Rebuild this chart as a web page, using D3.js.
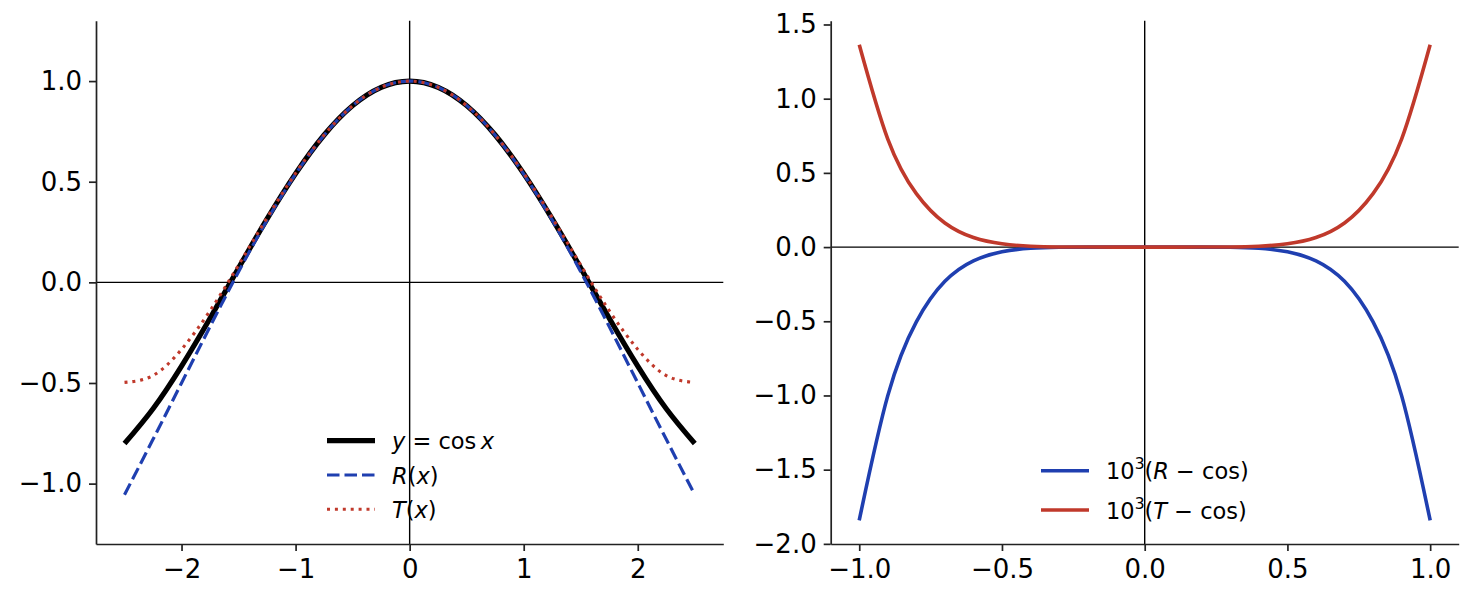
<!DOCTYPE html>
<html>
<head>
<meta charset="utf-8">
<script src="https://cdn.jsdelivr.net/npm/d3@7"></script>
<style>
  body { margin: 0; background: #fff; }
  text { font-family: "DejaVu Sans", sans-serif; }
</style>
</head>
<body>
<script>
// values

// left panel: cos x and its two approximations, x = -2.5 .. 2.5
const xsLeft = [-2.5, -2.25, -2.0, -1.75, -1.5, -1.25, -1.0, -0.75, -0.5, -0.25, 0,
                0.25, 0.5, 0.75, 1.0, 1.25, 1.5, 1.75, 2.0, 2.25, 2.5];
const cosVals = [-0.801, -0.628, -0.416, -0.178, 0.071, 0.315, 0.540, 0.732, 0.878, 0.969, 1.0,
                 0.969, 0.878, 0.732, 0.540, 0.315, 0.071, -0.178, -0.416, -0.628, -0.801];
const rVals = [-1.055, -0.780, -0.500, -0.220, 0.053, 0.309, 0.538, 0.731, 0.878, 0.969, 1.0,
               0.969, 0.878, 0.731, 0.538, 0.309, 0.053, -0.220, -0.500, -0.780, -1.055];
const tVals = [-0.497, -0.463, -0.333, -0.141, 0.086, 0.321, 0.542, 0.732, 0.878, 0.969, 1.0,
               0.969, 0.878, 0.732, 0.542, 0.321, 0.086, -0.141, -0.333, -0.463, -0.497];

// right panel: errors times 10^3, x = -1 .. 1
const xsRight = [-1.0, -0.9, -0.8, -0.7, -0.6, -0.5, -0.4, -0.3, -0.2, -0.1, 0,
                 0.1, 0.2, 0.3, 0.4, 0.5, 0.6, 0.7, 0.8, 0.9, 1.0];
const rErr = [-1.841, -1.001, -0.504, -0.231, -0.093, -0.032, -0.008, -0.0015, -0.0001, 0, 0,
              0, -0.0001, -0.0015, -0.008, -0.032, -0.093, -0.231, -0.504, -1.001, -1.841];
const tErr = [1.364, 0.728, 0.360, 0.162, 0.064, 0.022, 0.006, 0.001, 0.0001, 0, 0,
              0, 0.0001, 0.001, 0.006, 0.022, 0.064, 0.162, 0.360, 0.728, 1.364];

const ticksLeftX = [-2, -1, 0, 1, 2];
const ticksLeftY = [-1.0, -0.5, 0.0, 0.5, 1.0];
const ticksRightX = [-1.0, -0.5, 0.0, 0.5, 1.0];
const ticksRightY = [-2.0, -1.5, -1.0, -0.5, 0.0, 0.5, 1.0, 1.5];

const blue = '#1f3fb0';
const red = '#c0392b';

const svg = d3.select('body').append('svg')
  .attr('width', 1473)
  .attr('height', 601)

const plotTop = 20.7, plotBottom = 544;

function panel(opt) {
  const x = d3.scaleLinear().domain(opt.xDomain).range([opt.left, opt.right]);
  const y = d3.scaleLinear().domain(opt.yDomain).range([plotBottom, plotTop]);
  const g = svg.append('g');

  // zero lines
  g.append('line')
    .attr('x1', opt.left).attr('x2', opt.right)
    .attr('y1', y(0)).attr('y2', y(0))
    .attr('stroke', '#000').attr('stroke-width', 1.4);
  g.append('line')
    .attr('x1', x(0)).attr('x2', x(0))
    .attr('y1', plotTop).attr('y2', plotBottom)
    .attr('stroke', '#000').attr('stroke-width', 1.4);

  // curves
  opt.series.forEach((s) => {
    const line = d3.line()
      .x((d, i) => x(opt.xs[i]))
      .y((d) => y(d))
      .curve(d3.curveNatural);
    g.append('path')
      .attr('d', line(s.values))
      .attr('fill', 'none')
      .attr('stroke', s.color)
      .attr('stroke-width', s.width)
      .attr('stroke-dasharray', s.dash || null)
      .attr('stroke-linecap', s.cap || 'butt');
  });

  // axes (left + bottom spines only)
  const xAxis = d3.axisBottom(x).tickValues(opt.ticksX).tickFormat(opt.fmtX)
    .tickSizeInner(7).tickSizeOuter(0).tickPadding(9);
  const yAxis = d3.axisLeft(y).tickValues(opt.ticksY).tickFormat(opt.fmtY)
    .tickSizeInner(7).tickSizeOuter(0).tickPadding(7);

  [g.append('g').attr('transform', `translate(0,${plotBottom})`).call(xAxis),
   g.append('g').attr('transform', `translate(${opt.left},0)`).call(yAxis)]
    .forEach((ax) => {
      ax.select('.domain').attr('stroke', '#222').attr('stroke-width', 1.7);
      ax.selectAll('.tick line').attr('stroke', '#222').attr('stroke-width', 1.7);
      ax.selectAll('.tick text')
        .attr('fill', '#000')
        .style('font-family', '"DejaVu Sans", sans-serif')
        .style('font-size', '26px');
    });

  // legend, no frame
  const lg = g.append('g');
  opt.legend.forEach((item, i) => {
    const row = opt.legendY + i * opt.legendStep;
    lg.append('line')
      .attr('x1', opt.legendX).attr('x2', opt.legendX + 48)
      .attr('y1', row).attr('y2', row)
      .attr('stroke', item.color)
      .attr('stroke-width', item.width)
      .attr('stroke-dasharray', item.dash || null);
    const t = lg.append('text')
      .attr('x', opt.legendX + 65)
      .attr('y', row + 8.5)
      .style('font-size', '22.5px')
      .attr('fill', '#000');
    item.parts.forEach((p) => {
      const ts = t.append('tspan').text(p.t);
      if (p.i) ts.style('font-style', 'italic');
      if (p.sup) ts.attr('dy', -10).style('font-size', '15.5px');
      if (p.down) ts.attr('dy', 10);
    });
  });
}

panel({
  left: 96, right: 723.3,
  xDomain: [-2.75, 2.75], yDomain: [-1.3, 1.3],
  xs: xsLeft,
  ticksX: ticksLeftX, ticksY: ticksLeftY,
  fmtX: d3.format('d'), fmtY: d3.format('.1f'),
  series: [
    {values: cosVals, color: '#000', width: 5.2},
    {values: rVals, color: blue, width: 3.2, dash: '12.5,5'},
    {values: tVals, color: red, width: 3.1, dash: '3,4.9'}
  ],
  legendX: 327, legendY: 440.7, legendStep: 34.3,
  legend: [
    {color: '#000', width: 5.2, parts: [{t: 'y', i: true}, {t: ' = cos\u2009'}, {t: 'x', i: true}]},
    {color: blue, width: 3.2, dash: '12.5,5', parts: [{t: 'R', i: true}, {t: '('}, {t: 'x', i: true}, {t: ')'}]},
    {color: red, width: 3.1, dash: '3,4.9', parts: [{t: 'T', i: true}, {t: '('}, {t: 'x', i: true}, {t: ')'}]}
  ]
});

panel({
  left: 830.7, right: 1458.7,
  xDomain: [-1.1, 1.1], yDomain: [-2.0009, 1.5255],
  xs: xsRight,
  ticksX: ticksRightX, ticksY: ticksRightY,
  fmtX: d3.format('.1f'), fmtY: d3.format('.1f'),
  series: [
    {values: rErr, color: blue, width: 3.6},
    {values: tErr, color: red, width: 3.6}
  ],
  legendX: 1041, legendY: 470.7, legendStep: 39.3,
  legend: [
    {color: blue, width: 3.6, parts: [{t: '10'}, {t: '3', sup: true}, {t: '(', down: true}, {t: 'R', i: true}, {t: ' \u2212 cos)'}]},
    {color: red, width: 3.6, parts: [{t: '10'}, {t: '3', sup: true}, {t: '(', down: true}, {t: 'T', i: true}, {t: ' \u2212 cos)'}]}
  ]
});
</script>
</body>
</html>
